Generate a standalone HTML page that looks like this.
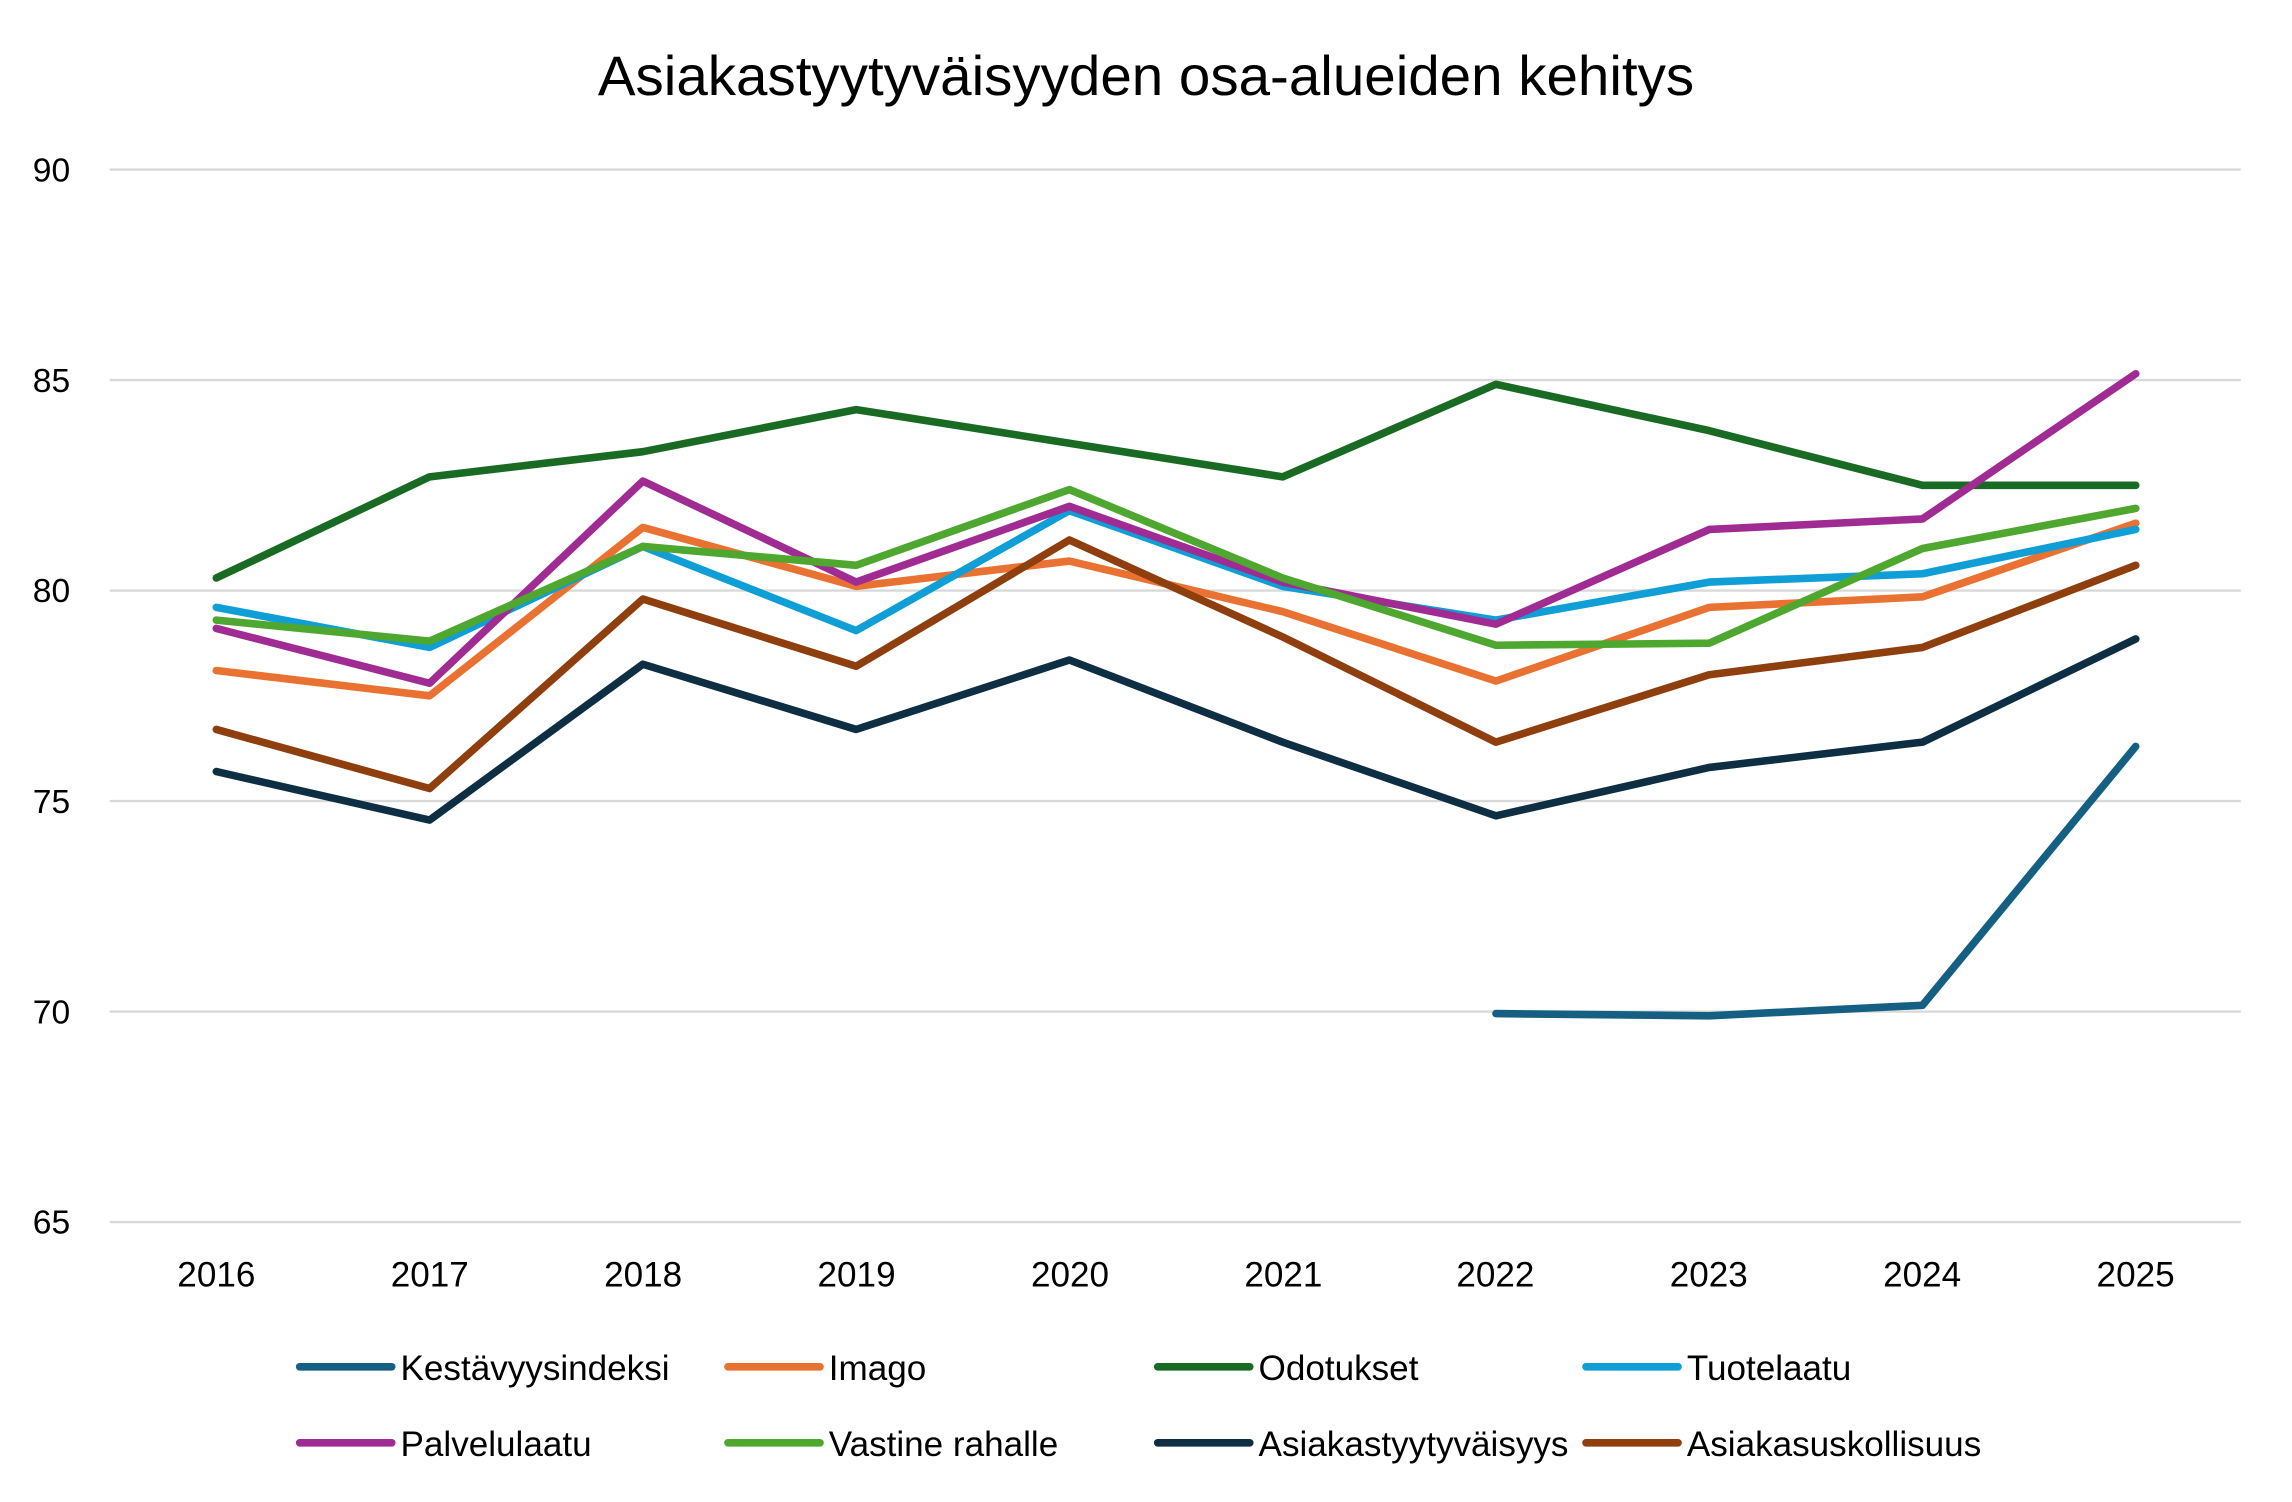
<!DOCTYPE html>
<html><head><meta charset="utf-8"><style>
html,body{margin:0;padding:0;background:#fff}
svg{display:block}
text{font-family:"Liberation Sans Narrow","Liberation Sans",sans-serif;fill:#000}
</style></head><body>
<svg width="2292" height="1502" viewBox="0 0 1568 1027.5" preserveAspectRatio="none" xmlns="http://www.w3.org/2000/svg">
<rect width="1568" height="1028" fill="#fff"/>
<text x="784" y="65" font-size="38" text-anchor="middle" textLength="750" lengthAdjust="spacingAndGlyphs">Asiakastyytyväisyyden osa-alueiden kehitys</text>
<g stroke="#d9d9d9" stroke-width="1.6">
<line x1="75" x2="1533" y1="116" y2="116"/><line x1="75" x2="1533" y1="260" y2="260"/>
<line x1="75" x2="1533" y1="404" y2="404"/><line x1="75" x2="1533" y1="548" y2="548"/>
<line x1="75" x2="1533" y1="692" y2="692"/><line x1="75" x2="1533" y1="836" y2="836"/>
</g>
<g font-size="23" text-anchor="end">
<text x="48" y="124">90</text><text x="48" y="268">85</text><text x="48" y="412">80</text>
<text x="48" y="556">75</text><text x="48" y="700">70</text><text x="48" y="844">65</text>
</g>
<g font-size="24" text-anchor="middle">
<text x="148" y="880">2016</text><text x="294" y="880">2017</text><text x="440" y="880">2018</text>
<text x="586" y="880">2019</text><text x="732" y="880">2020</text><text x="878" y="880">2021</text>
<text x="1023" y="880">2022</text><text x="1169" y="880">2023</text><text x="1315" y="880">2024</text>
<text x="1461" y="880">2025</text>
</g>
<g fill="none" stroke-width="5.2" stroke-linejoin="round" stroke-linecap="round" id="s"></g>
<g font-size="24">
<text x="274" y="944">Kestävyysindeksi</text><text x="567" y="944">Imago</text>
<text x="861" y="944">Odotukset</text><text x="1154" y="944">Tuotelaatu</text>
<text x="274" y="996">Palvelulaatu</text><text x="567" y="996">Vastine rahalle</text>
<text x="861" y="996">Asiakastyytyväisyys</text><text x="1154" y="996">Asiakasuskollisuus</text>
</g>
<g stroke-width="5.2" stroke-linecap="round" id="lg"></g>
</svg>
<script>
var s=[["#156082",[null,null,null,null,null,null,69.95,69.9,70.15,76.3]],
["#E97132",[78.1,77.5,81.5,80.1,80.7,79.5,77.85,79.6,79.85,81.6]],
["#196B24",[80.3,82.7,83.3,84.3,83.5,82.7,84.9,83.8,82.5,82.5]],
["#0F9ED5",[79.6,78.65,81.05,79.05,81.9,80.1,79.3,80.2,80.4,81.45]],
["#A02B93",[79.1,77.8,82.6,80.2,82.0,80.2,79.2,81.45,81.7,85.15]],
["#4EA72E",[79.3,78.8,81.05,80.6,82.4,80.3,78.7,78.75,81.0,81.95]],
["#0E2E44",[75.7,74.55,78.25,76.7,78.35,76.4,74.65,75.8,76.4,78.85]],
["#8F3E0D",[76.7,75.3,79.8,78.2,81.2,78.9,76.4,78.0,78.65,80.6]]];
var g=document.getElementById("s"),L=document.getElementById("lg"),ns="http://www.w3.org/2000/svg";
var lx=[205,498,792,1085];
s.forEach(function(d,i){var p=[];d[1].forEach(function(v,j){if(v!==null)p.push((148+j*145.9).toFixed(1)+","+(116+(90-v)*28.8).toFixed(1));});
var e=document.createElementNS(ns,"polyline");e.setAttribute("points",p.join(" "));e.setAttribute("stroke",d[0]);g.appendChild(e);
var l=document.createElementNS(ns,"line");var x=lx[i%4],y=i<4?935:987;l.setAttribute("x1",x);l.setAttribute("x2",x+63);l.setAttribute("y1",y);l.setAttribute("y2",y);l.setAttribute("stroke",d[0]);L.appendChild(l);});
</script>
</body></html>
